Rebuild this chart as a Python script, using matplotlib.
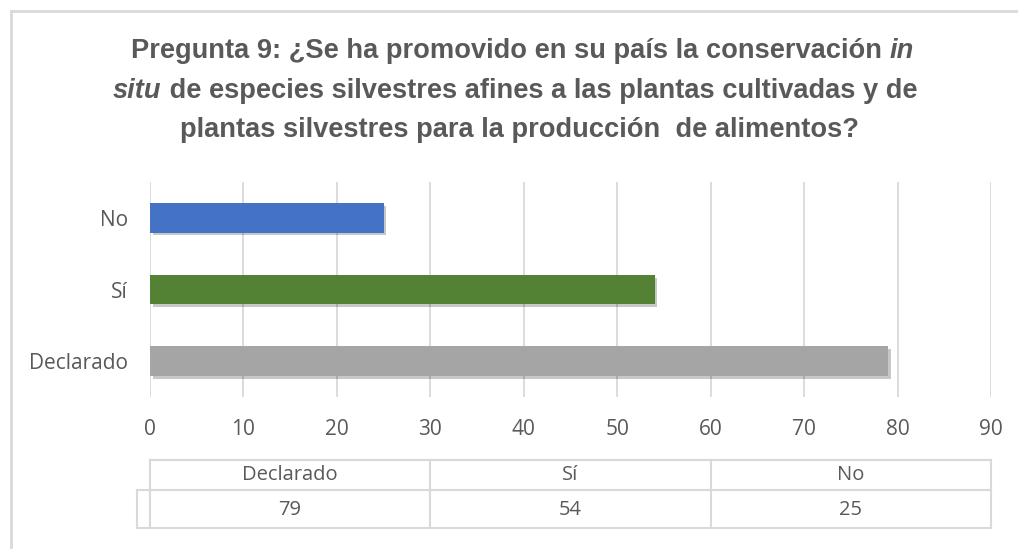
import matplotlib
matplotlib.use("Agg")
import matplotlib.pyplot as plt
from matplotlib import patheffects as pe
from matplotlib.lines import Line2D

categories = ["Declarado", "Sí", "No"]
values = [79, 54, 25]
colors = ["#A5A5A5", "#548235", "#4472C4"]
xticks = [0, 10, 20, 30, 40, 50, 60, 70, 80, 90]
title_lines = [
    [("Pregunta 9: ¿Se ha promovido en su país la conservación ", False), ("in", True)],
    [("situ", True), (" de especies silvestres afines a las plantas cultivadas y de", False)],
    [("plantas silvestres para la producción  de alimentos?", False)],
]

W, H = 1018, 549
fig = plt.figure(figsize=(W / 100, H / 100), dpi=100)
fig.patch.set_facecolor("white")

def fx(px):
    return px / W

def fy(py):
    return 1 - py / H

TXT = "#595959"
GRID = "#D9D9D9"
FONT = ["Liberation Sans Narrow", "Liberation Sans", "DejaVu Sans"]
BODY = ["Open Sans", "DejaVu Sans"]

# outer chart frame
fig.add_artist(Line2D([fx(11), fx(11)], [fy(11), 0], color=GRID, lw=2, transform=fig.transFigure))
fig.add_artist(Line2D([fx(11), 1], [fy(11), fy(11)], color=GRID, lw=2, transform=fig.transFigure))

ax = fig.add_axes([fx(150), fy(397), fx(991) - fx(150), fy(182) - fy(397)])
bars = ax.barh(range(len(categories)), values, height=0.41, color=colors, zorder=3)
for b in bars:
    b.set_path_effects([pe.SimplePatchShadow(offset=(2, -2), shadow_rgbFace="#000000", alpha=0.22), pe.Normal()])
ax.set_xlim(0, 90)
ax.set_ylim(-0.5, len(categories) - 0.5)
ax.set_xticks(xticks)
ax.set_yticks(range(len(categories)))
ax.set_yticklabels(categories)
ax.grid(axis="x", color=GRID, lw=1.3, zorder=0)
for s in ax.spines.values():
    s.set_visible(False)
ax.tick_params(axis="both", length=0, colors=TXT, labelsize=15)
ax.tick_params(axis="x", pad=16)
ax.tick_params(axis="y", pad=16)
for lab in ax.get_xticklabels() + ax.get_yticklabels():
    lab.set_family(BODY)
    lab.set_color(TXT)

# title with mixed italic segments
fig.canvas.draw()
renderer = fig.canvas.get_renderer()
line_y = [51, 91, 130]
centers = [522, 515, 520]
title_fs = 19.6
for segs, py, cxp in zip(title_lines, line_y, centers):
    texts = []
    for s, it in segs:
        t = fig.text(0, fy(py), s, fontsize=title_fs, fontweight="bold",
                     style="italic" if it else "normal", color=TXT,
                     family=FONT, va="center", ha="left")
        texts.append(t)
    widths = [t.get_window_extent(renderer).width for t in texts]
    total = sum(widths)
    x0 = cxp - total / 2
    for t, w in zip(texts, widths):
        t.set_x(fx(x0))
        x0 += w

# data table
cols_px = [150, 430, 711, 991]
def hline(x1, x2, py):
    fig.add_artist(Line2D([fx(x1), fx(x2)], [fy(py), fy(py)], color=GRID, lw=1.5, transform=fig.transFigure))
def vline(px, y1, y2):
    fig.add_artist(Line2D([fx(px), fx(px)], [fy(y1), fy(y2)], color=GRID, lw=1.5, transform=fig.transFigure))
hline(150, 991, 460)
hline(137, 991, 490)
hline(137, 991, 528)
for c in cols_px:
    vline(c, 460, 528)
vline(137, 490, 528)
for i, (cat, v) in enumerate(zip(categories, values)):
    cx = (cols_px[i] + cols_px[i + 1]) / 2
    fig.text(fx(cx), fy(475), cat, ha="center", va="center", fontsize=14.5, color=TXT, family=BODY)
    fig.text(fx(cx), fy(510), str(v), ha="center", va="center", fontsize=14.5, color=TXT, family=BODY)

fig.savefig("out.png", dpi=100, facecolor="white")
